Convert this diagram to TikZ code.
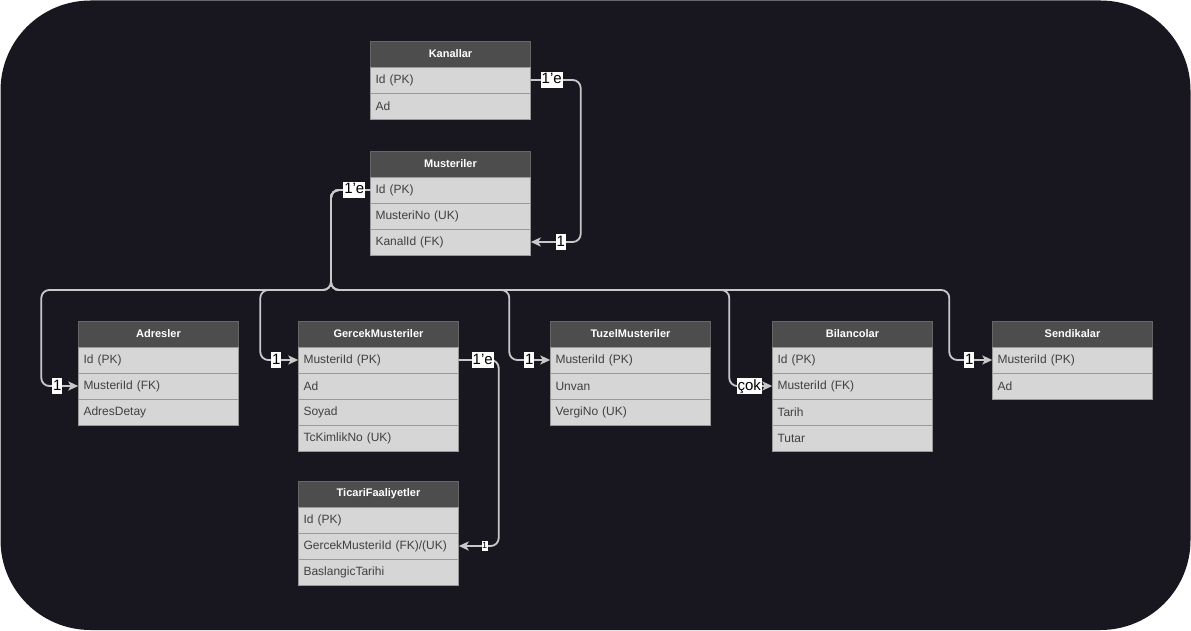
\documentclass[tikz,border=0pt]{standalone}
\usepackage{fontspec}
\setmainfont{Liberation Sans}
\usetikzlibrary{arrows.meta}
\definecolor{zemin}{HTML}{18161F}
\definecolor{baslik}{HTML}{4D4D4D}
\definecolor{satir}{HTML}{D6D6D6}
\definecolor{cizgi}{HTML}{C8C8C8}
\tikzset{
    tbhead/.style={draw=gray!80!black, fill=baslik, text=white, font=\bfseries\fontsize{11}{13}\selectfont,
        minimum width=160pt, minimum height=26pt, inner sep=0pt},
    tbrow/.style={draw=gray!80, fill=satir, text=black!75, font=\fontsize{12}{14}\selectfont,
        text width=150pt, align=left, inner xsep=5pt, inner ysep=0pt, minimum height=26pt},
    conn/.style={draw=cizgi, line width=1.8pt, rounded corners=8pt,
        -{Stealth[length=10pt, width=9pt, inset=2.5pt]}},
    etiket/.style={fill=white, text=black, font=\fontsize{15}{15}\selectfont,
        text height=11.5pt, text depth=3.5pt, inner xsep=0.8pt, inner ysep=0.8pt},
    kucuk/.style={etiket, font=\fontsize{9}{9}\selectfont, text height=7pt, text depth=2pt,
        inner xsep=0.5pt, inner ysep=0.8pt},
}
% tablo: onek, x, y (baslik merkezi), baslik, satirlar
\newcommand{\tablo}[5]{%
    \node[tbhead] (#1-h) at (#2,#3) {#4};
    \foreach \k/\t [count=\i] in {#5}
        \node[tbrow] (#1-\k) at (#2,#3+26*\i) {\t};
}

\begin{document}
\begin{tikzpicture}[x=1pt,y=-1pt]
    \useasboundingbox (0,0) rectangle (1191,631);
    \fill[zemin, rounded corners=90pt] (0.5,0.5) rectangle (1190.5,630);

    % tablolar
    \tablo{kan}{450.5}{54}{Kanallar}{id/Id (PK), ad/Ad}
    \tablo{mus}{450.5}{164}{Musteriler}{id/Id (PK), no/MusteriNo (UK), kanal/KanalId (FK)}
    \tablo{adr}{158.5}{334}{Adresler}{id/Id (PK), mid/MusteriId (FK), detay/AdresDetay}
    \tablo{gm}{378.5}{334}{GercekMusteriler}{mid/MusteriId (PK), ad/Ad, soyad/Soyad, tc/TcKimlikNo (UK)}
    \tablo{tz}{630.5}{334}{TuzelMusteriler}{mid/MusteriId (PK), unvan/Unvan, vergi/VergiNo (UK)}
    \tablo{bil}{852.5}{334}{Bilancolar}{id/Id (PK), mid/MusteriId (FK), tarih/Tarih, tutar/Tutar}
    \tablo{sen}{1072.5}{334}{Sendikalar}{mid/MusteriId (PK), ad/Ad}
    \tablo{tf}{378.5}{494}{TicariFaaliyetler}{id/Id (PK), gmid/{GercekMusteriId (FK)/(UK)}, bas/BaslangicTarihi}

    % iliskiler
    \coordinate (bus) at (331,290);
    \draw[conn] (kan-id.east) -- ++(50,0) |- (mus-kanal.east);
    \draw[conn] (mus-id.west) -| (bus) -| ([xshift=-37pt]adr-mid.west) -- (adr-mid.west);
    \draw[conn] (mus-id.west) -| (bus) -| ([xshift=-38pt]gm-mid.west) -- (gm-mid.west);
    \draw[conn] (mus-id.west) -| (bus) -| ([xshift=-41pt]tz-mid.west) -- (tz-mid.west);
    \draw[conn] (mus-id.west) -| (bus) -| ([xshift=-43pt]bil-mid.west) -- (bil-mid.west);
    \draw[conn] (mus-id.west) -| (bus) -| ([xshift=-43pt]sen-mid.west) -- (sen-mid.west);
    \draw[conn] (gm-mid.east) -- ++(40,0) |- (tf-gmid.east);

    % etiketler
    \node[etiket] (e-kan) at ([xshift=21pt]kan-id.east) {1'e};
    \node[etiket] (e-muskanal) at ([xshift=30pt]mus-kanal.east) {1};
    \node[etiket] (e-mus) at ([xshift=-16pt]mus-id.west) {1'e};
    \node[etiket] (e-adr) at ([xshift=-21pt]adr-mid.west) {1};
    \node[etiket] (e-gm) at ([xshift=-22pt]gm-mid.west) {1};
    \node[etiket] (e-tz) at ([xshift=-21pt]tz-mid.west) {1};
    \node[etiket] (e-bil) at ([xshift=-23pt]bil-mid.west) {çok};
    \node[etiket] (e-sen) at ([xshift=-23pt]sen-mid.west) {1};
    \node[etiket] (e-gmtf) at ([xshift=24pt]gm-mid.east) {1'e};
    \node[kucuk] (e-tf) at ([xshift=26pt]tf-gmid.east) {1};
\end{tikzpicture}
\end{document}
